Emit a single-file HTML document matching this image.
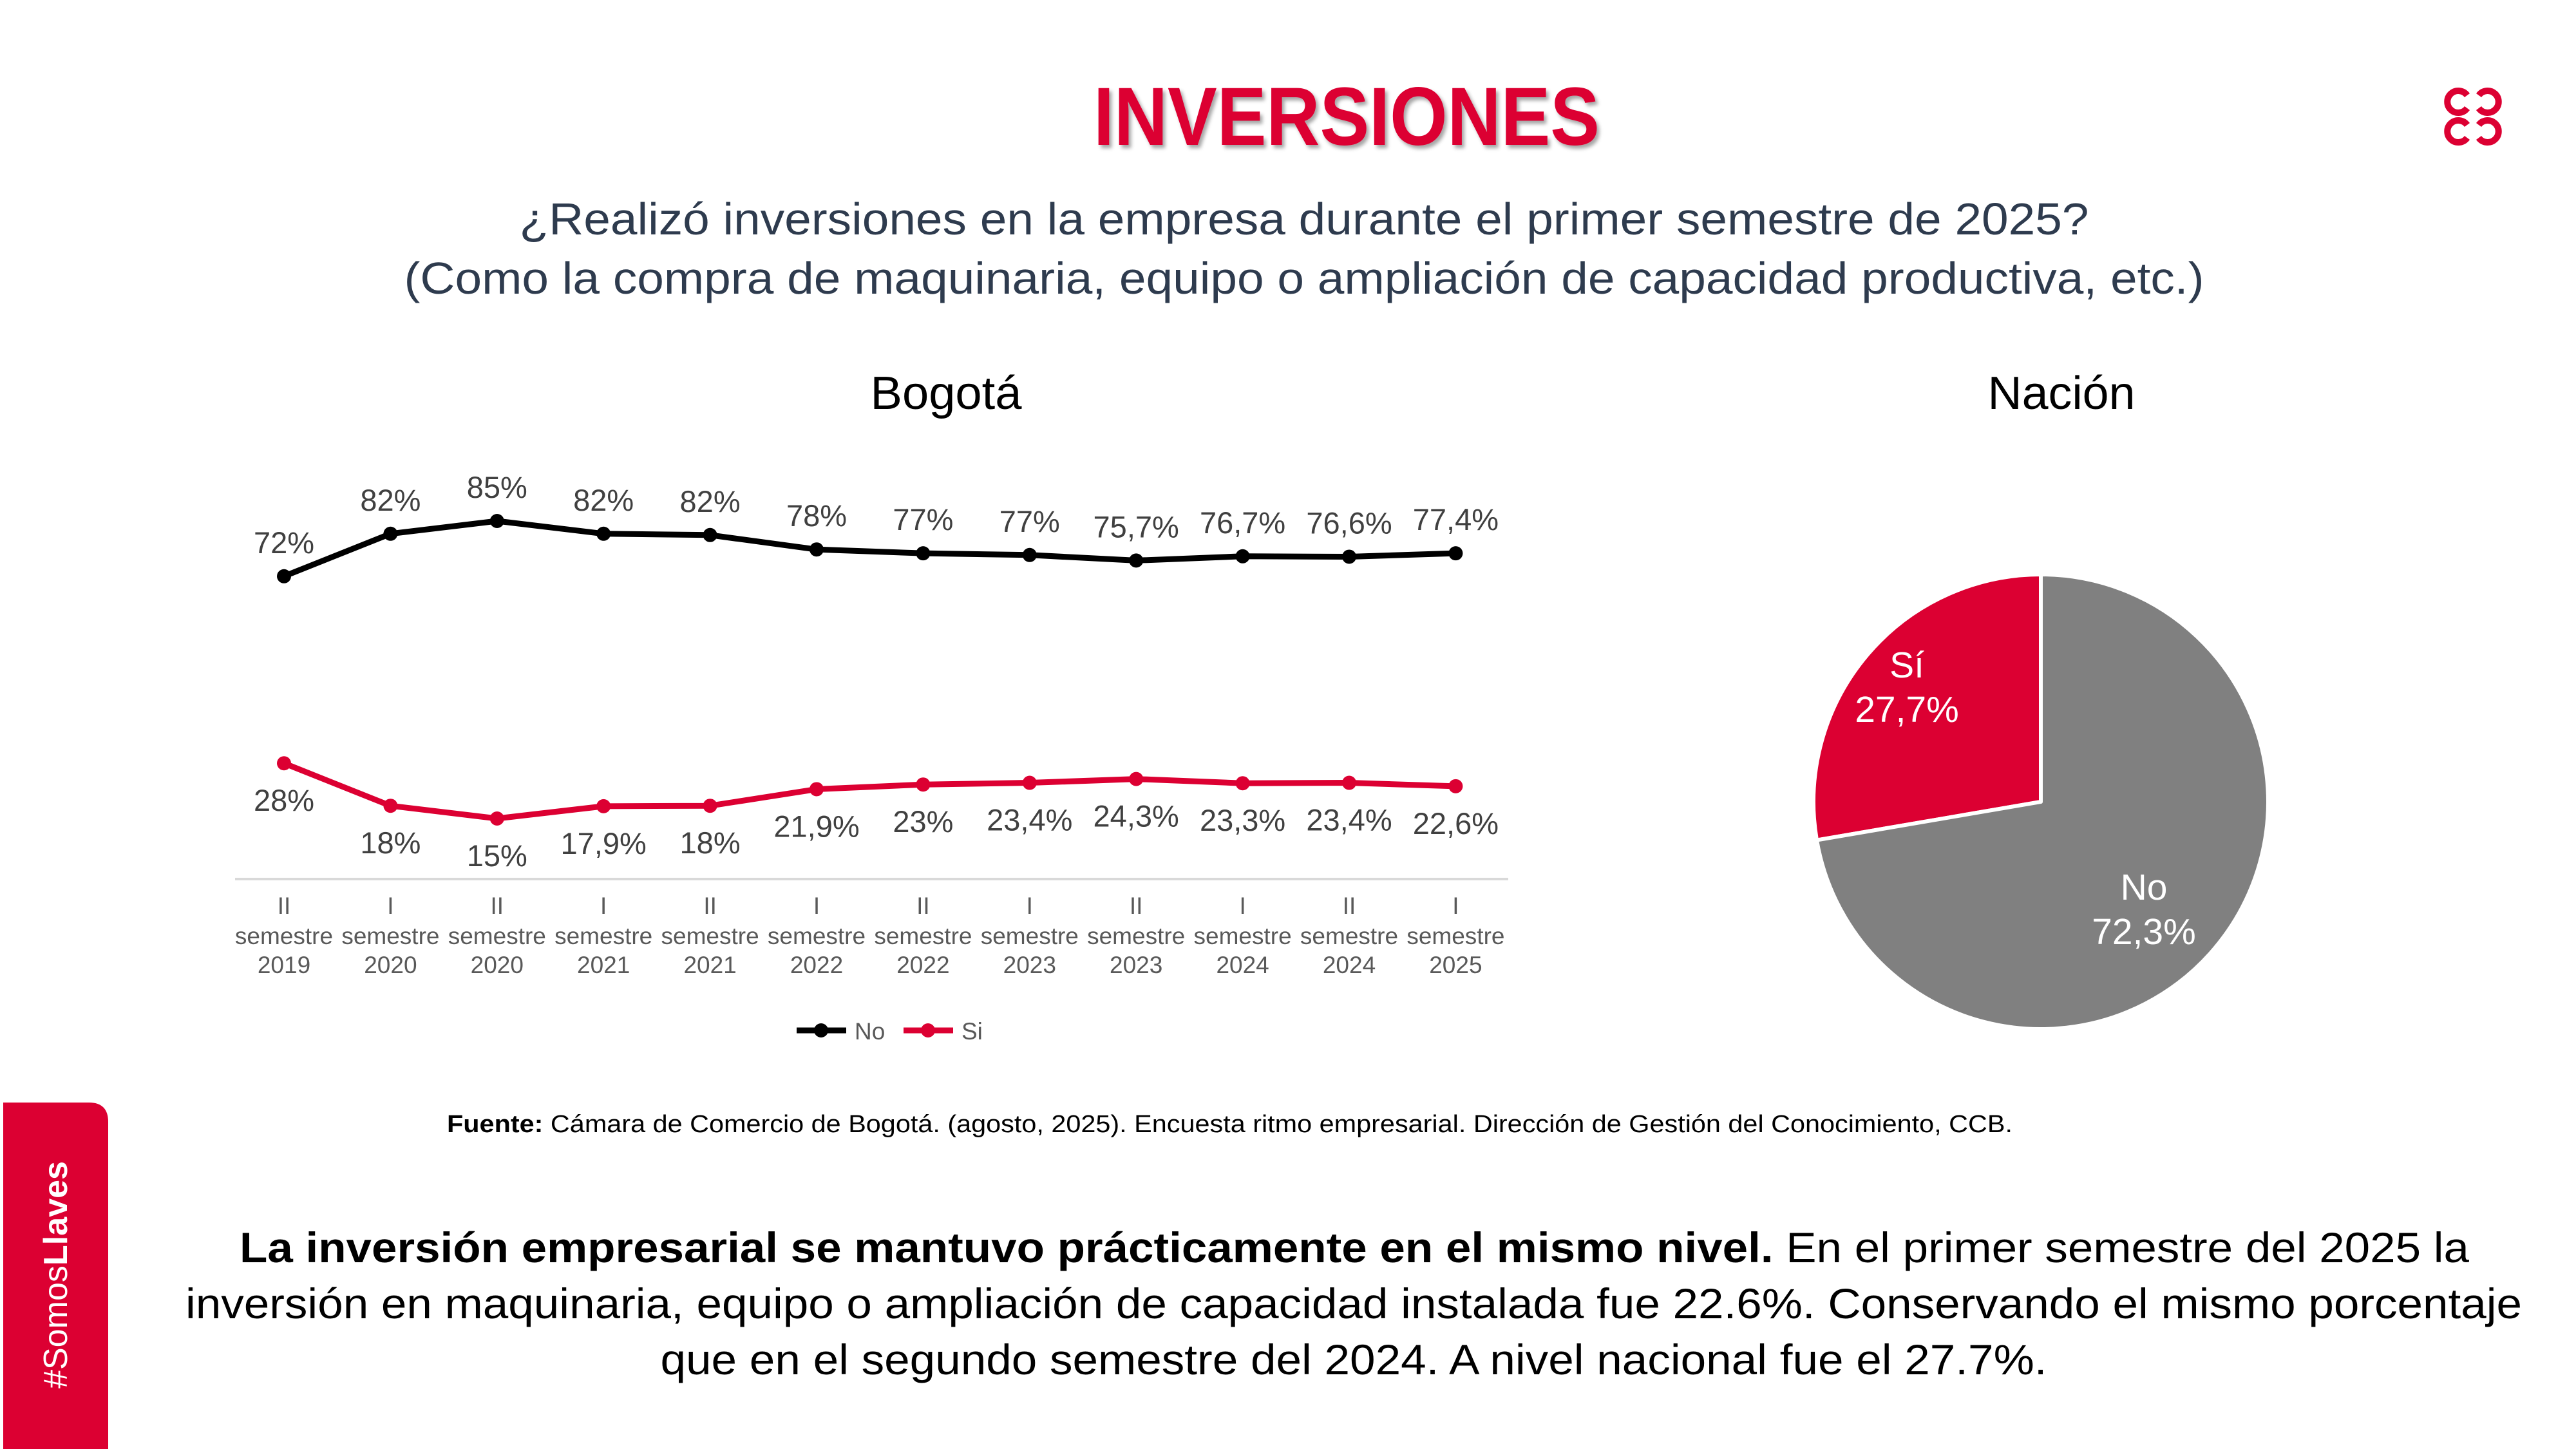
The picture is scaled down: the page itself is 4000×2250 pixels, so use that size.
<!DOCTYPE html>
<html><head><meta charset="utf-8"><style>
html,body{margin:0;padding:0;background:#fff;}
svg{display:block;font-family:"Liberation Sans",Arial,sans-serif;}
</style></head><body>
<svg id="root" width="4000" height="2250" viewBox="0 0 4000 2250" xmlns="http://www.w3.org/2000/svg">
<defs><filter id="sh" x="-5%" y="-20%" width="110%" height="140%"><feDropShadow dx="4" dy="5" stdDeviation="3" flood-color="#000" flood-opacity="0.35"/></filter></defs>
<text x="2091" y="225" text-anchor="middle" font-size="128" font-weight="bold" fill="#dc0032" textLength="786" lengthAdjust="spacingAndGlyphs" filter="url(#sh)">INVERSIONES</text>
<g fill="none" stroke="#dc0032" stroke-width="10">
<path d="M3831,148 A17,17 0 1 0 3831,168"/><path d="M3849,148 A17,17 0 1 1 3849,168"/>
<path d="M3831,194 A17,17 0 1 0 3831,214"/><path d="M3849,194 A17,17 0 1 1 3849,214"/>
</g>
<text x="2025" y="364" text-anchor="middle" font-size="70" fill="#2e3b4e" textLength="2437" lengthAdjust="spacingAndGlyphs">¿Realizó inversiones en la empresa durante el primer semestre de 2025?</text>
<text x="2025" y="456" text-anchor="middle" font-size="70" fill="#2e3b4e" textLength="2795" lengthAdjust="spacingAndGlyphs">(Como la compra de maquinaria, equipo o ampliación de capacidad productiva, etc.)</text>
<text x="1469" y="635" text-anchor="middle" font-size="72" fill="#000" textLength="235" lengthAdjust="spacingAndGlyphs">Bogotá</text>
<text x="3201" y="635" text-anchor="middle" font-size="72" fill="#000" textLength="229" lengthAdjust="spacingAndGlyphs">Nación</text>
<g id="line-chart"></g>
<g id="pie-chart"></g>
<text x="694" y="1758" font-size="38" fill="#000" textLength="2431" lengthAdjust="spacingAndGlyphs"><tspan font-weight="bold">Fuente:</tspan> Cámara de Comercio de Bogotá. (agosto, 2025). Encuesta ritmo empresarial. Dirección de Gestión del Conocimiento, CCB.</text>
<text x="2103" y="1960" text-anchor="middle" font-size="66" fill="#000" textLength="3462" lengthAdjust="spacingAndGlyphs"><tspan font-weight="bold">La inversión empresarial se mantuvo prácticamente en el mismo nivel.</tspan> En el primer semestre del 2025 la</text>
<text x="2102" y="2047" text-anchor="middle" font-size="66" fill="#000" textLength="3628" lengthAdjust="spacingAndGlyphs">inversión en maquinaria, equipo o ampliación de capacidad instalada fue 22.6%. Conservando el mismo porcentaje</text>
<text x="2102" y="2134" text-anchor="middle" font-size="66" fill="#000" textLength="2153" lengthAdjust="spacingAndGlyphs">que en el segundo semestre del 2024. A nivel nacional fue el 27.7%.</text>
<g>
<path d="M5,1712 H138 Q168,1712 168,1742 V2250 H5 Z" fill="#dc0032"/>
<text transform="translate(104,2156) rotate(-90)" font-size="52" fill="#fff" textLength="353" lengthAdjust="spacingAndGlyphs">#Somos<tspan font-weight="bold">Llaves</tspan></text>
</g>
</svg>
<script>
const NS="http://www.w3.org/2000/svg";
const categoriesRoman=["II","I","II","I","II","I","II","I","II","I","II","I"];
const categoriesYear=["2019","2020","2020","2021","2021","2022","2022","2023","2023","2024","2024","2025"];
const seriesNo=[72,82,85,82,81.7,78.3,77.4,77,75.7,76.7,76.6,77.4];
const seriesSi=[28,18,15,17.9,18,21.9,23,23.4,24.3,23.3,23.4,22.6];
const labelsNo=["72%","82%","85%","82%","82%","78%","77%","77%","75,7%","76,7%","76,6%","77,4%"];
const labelsSi=["28%","18%","15%","17,9%","18%","21,9%","23%","23,4%","24,3%","23,3%","23,4%","22,6%"];
const pieLabels=["Sí","No"];
const pieValues=[27.7,72.3];
const pieText=["27,7%","72,3%"];

function mk(tag,attrs,parent){const e=document.createElementNS(NS,tag);for(const k in attrs)e.setAttribute(k,attrs[k]);parent.appendChild(e);return e;}
const lc=document.getElementById("line-chart");
const xScale=i=>441+i*165.4;
const yScale=v=>1370-6.6*v;
let ax=mk("line",{x1:365,x2:2342,y1:1365,y2:1365,stroke:"#d9d9d9","stroke-width":4},lc);


categoriesRoman.forEach((r,i)=>{
  const x=xScale(i);
  const g=mk("g",{fill:"#595959","font-size":37,"text-anchor":"middle"},lc);
  
  
  mk("text",{x:x,y:1419},g).textContent=r;
  mk("text",{x:x,y:1466},g).textContent="semestre";
  mk("text",{x:x,y:1511},g).textContent=categoriesYear[i];
});
function drawSeries(vals,labels,color,name,above){
  const pts=vals.map((v,i)=>xScale(i)+","+yScale(v)).join(" ");
  const pl=mk("polyline",{points:pts,fill:"none",stroke:color,"stroke-width":9,"stroke-linejoin":"round"},lc);
  
  
  vals.forEach((v,i)=>{
    const c=mk("circle",{cx:xScale(i),cy:yScale(v),r:11,fill:color},lc);
    
    
    const t=mk("text",{x:xScale(i),y:yScale(v)+(above?-36:74),"text-anchor":"middle","font-size":47,fill:"#404040"},lc);
    
    
    t.textContent=labels[i];
  });
}
drawSeries(seriesNo,labelsNo,"#000000","no",true);
drawSeries(seriesSi,labelsSi,"#dc0032","si",false);
[["No","#000",1237],["Si","#dc0032",1403]].forEach(([n,c,x])=>{
  const g=mk("g",{},lc);
  
  
  mk("line",{x1:x,x2:x+77,y1:1600,y2:1600,stroke:c,"stroke-width":9},g);
  mk("circle",{cx:x+38,cy:1600,r:11,fill:c},g);
  const t=mk("text",{x:x+90,y:1614,"font-size":37,fill:"#595959"},g);t.textContent=n;
});
const pc=document.getElementById("pie-chart");
const cx=3169,cy=1245,R=353;
const total=pieValues.reduce((a,b)=>a+b,0);
const colors=["#dc0032","#808080"];
const labelOffsets=[[-208,-193],[160,152]];
pieValues.forEach((v,i)=>{
  const frac=v/total;
  let a0,a1;
  if(i===0){a0=-frac*2*Math.PI;a1=0;}else{a0=0;a1=frac*2*Math.PI;}
  const p=a=>[cx+R*Math.sin(a),cy-R*Math.cos(a)];
  const [x0,y0]=p(a0),[x1,y1]=p(a1);
  const large=frac>0.5?1:0;
  const path=mk("path",{d:`M${cx},${cy} L${x0},${y0} A${R},${R} 0 ${large} 1 ${x1},${y1} Z`,fill:colors[i],stroke:"#fff","stroke-width":6,"stroke-linejoin":"round"},pc);
  
  
  const lx=cx+labelOffsets[i][0], ly=cy+labelOffsets[i][1];
  const t=mk("text",{x:lx,y:ly,"text-anchor":"middle","font-size":57,fill:"#fff"},pc);
  
  
  mk("tspan",{x:lx},t).textContent=pieLabels[i];
  mk("tspan",{x:lx,dy:69},t).textContent=pieText[i];
});
</script>
</body></html>
